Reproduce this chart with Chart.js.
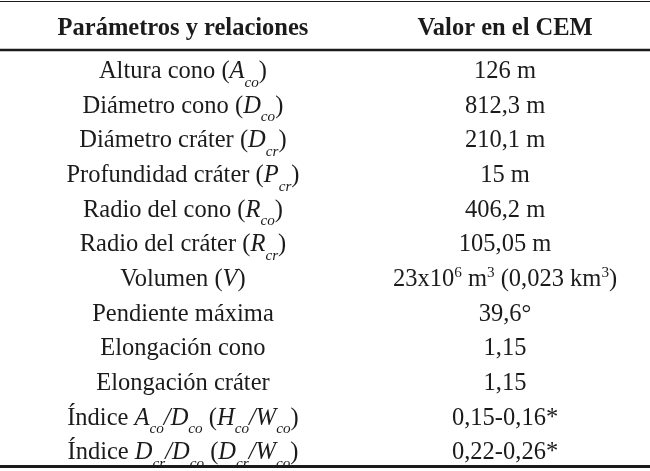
<!DOCTYPE html>
<html><head><meta charset="utf-8">
<script src="https://cdn.jsdelivr.net/npm/chart.js@4"></script>
<style>html,body{margin:0;padding:0;background:#fff}#wrap{width:650px;height:471px}</style>
</head><body><div id="wrap"><canvas id="c" width="650" height="471"></canvas></div>
<script>
// ~ toggles italic, _{..} subscript, ^{..} superscript
const headers = ["Parámetros y relaciones", "Valor en el CEM"];
const parametros = [
  "Altura cono (~A_{co}~)",
  "Diámetro cono (~D_{co}~)",
  "Diámetro cráter (~D_{cr}~)",
  "Profundidad cráter (~P_{cr}~)",
  "Radio del cono (~R_{co}~)",
  "Radio del cráter (~R_{cr}~)",
  "Volumen (~V~)",
  "Pendiente máxima",
  "Elongación cono",
  "Elongación cráter",
  "Índice ~A_{co}/D_{co}~ (~H_{co}/W_{co}~)",
  "Índice ~D_{cr}/D_{co}~ (~D_{cr}/W_{co}~)"
];
const valores = [
  "126 m", "812,3 m", "210,1 m", "15 m", "406,2 m", "105,05 m",
  "23x10^{6} m^{3} (0,023 km^{3})", "39,6°", "1,15", "1,15",
  "0,15-0,16*", "0,22-0,26*"
];

const FONT = '"Liberation Serif", "Times New Roman", serif';
const SIZE = 24.5;
const INK = '#1b1b1b';

function parse(s){
  const segs=[]; let italic=false; let i=0; let buf='';
  const push=(t,mode)=>{ if(t) segs.push({t,italic,mode}); };
  while(i<s.length){
    const ch=s[i];
    if(ch==='~'){ push(buf,'n'); buf=''; italic=!italic; i++; continue; }
    if((ch==='_'||ch==='^') && s[i+1]==='{'){
      push(buf,'n'); buf='';
      const end=s.indexOf('}',i);
      push(s.slice(i+2,end), ch==='_'?'sub':'sup');
      i=end+1; continue;
    }
    buf+=ch; i++;
  }
  push(buf,'n');
  return segs;
}
function fontFor(seg,bold){
  const sz = seg.mode==='n'?SIZE:(SIZE*0.62).toFixed(1);
  return (seg.italic?'italic ':'')+(bold?'bold ':'')+sz+'px '+FONT;
}
function drawRich(ctx,str,cx,by,bold){
  const segs=parse(str);
  let w=0;
  segs.forEach(s=>{ctx.font=fontFor(s,bold); s.w=ctx.measureText(s.t).width; w+=s.w;});
  let x=cx-w/2;
  segs.forEach(s=>{
    ctx.font=fontFor(s,bold);
    const dy = s.mode==='sub'? SIZE*0.36 : (s.mode==='sup'? -SIZE*0.36 : 0);
    ctx.fillText(s.t,x,by+dy);
    x+=s.w;
  });
}

const HEADER_ROW = -1.2406, HEADER_RULE = -0.8078, TOP_RULE = -2.207, BOTTOM_RULE = 11.209;

const tablePlugin = {
  id:'table',
  afterDatasetsDraw(chart){
    const ctx=chart.ctx, xs=chart.scales.x, ys=chart.scales.y;
    ctx.save();
    ctx.fillStyle=INK; ctx.strokeStyle=INK; ctx.textBaseline='alphabetic';
    const rule=(v,lw)=>{ const y=ys.getPixelForValue(v); ctx.lineWidth=lw; ctx.beginPath(); ctx.moveTo(xs.left,y); ctx.lineTo(xs.right,y); ctx.stroke(); };
    rule(TOP_RULE,1.2); rule(HEADER_RULE,2.4); rule(BOTTOM_RULE,2.8);
    headers.forEach((h,c)=>drawRich(ctx,h,xs.getPixelForValue(c),ys.getPixelForValue(HEADER_ROW),true));
    chart.data.datasets.forEach((ds,di)=>{
      const meta=chart.getDatasetMeta(di);
      const texts = di===0?parametros:valores;
      meta.data.forEach((pt,i)=>drawRich(ctx,texts[i],pt.x,pt.y,false));
    });
    ctx.restore();
  }
};

new Chart(document.getElementById('c'),{
  type:'scatter',
  data:{datasets:[
    {label:'Parámetros', data:parametros.map((_,i)=>({x:0,y:i})), pointRadius:0},
    {label:'Valor', data:valores.map((_,i)=>({x:1,y:i})), pointRadius:0}
  ]},
  options:{
    responsive:false, animation:false, devicePixelRatio:1,
    layout:{padding:0},
    plugins:{legend:{display:false},tooltip:{enabled:false}},
    scales:{
      x:{type:'linear',min:-0.568,max:1.450,display:false},
      y:{type:'linear',min:-2.2504,max:11.339,reverse:true,display:false}
    }
  },
  plugins:[tablePlugin]
});
</script></body></html>
